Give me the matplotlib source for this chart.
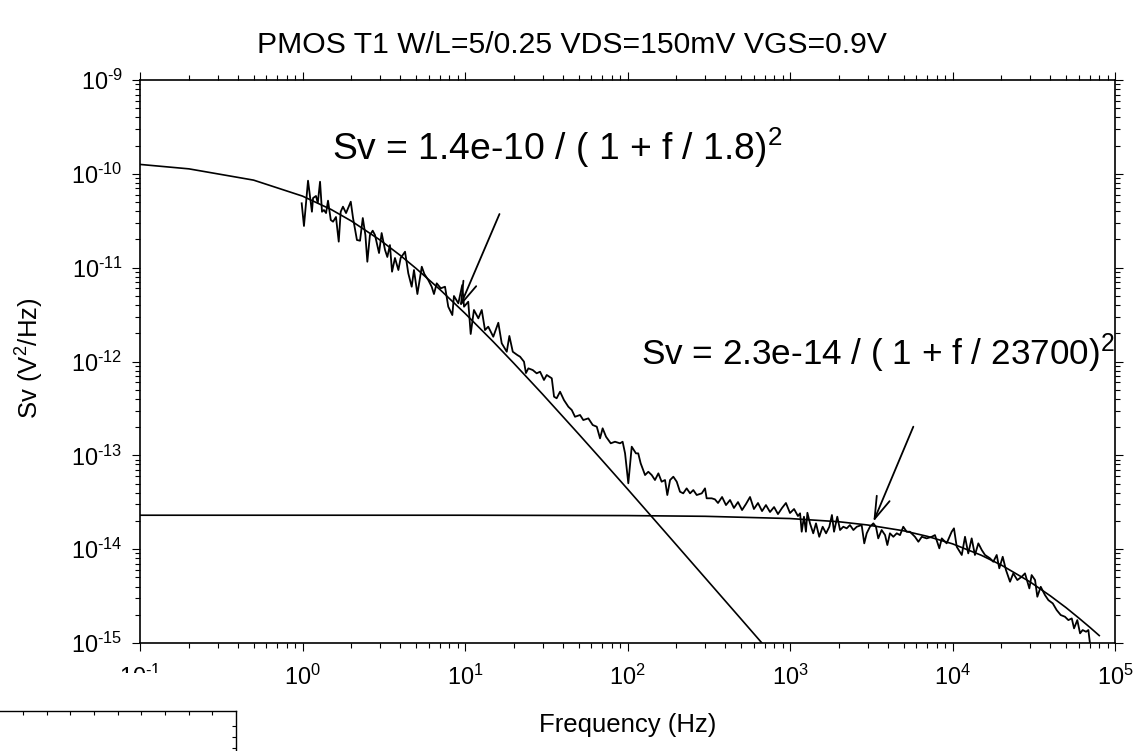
import matplotlib
matplotlib.use("Agg")
import matplotlib.pyplot as plt
import numpy as np
from matplotlib.ticker import LogLocator, NullFormatter, FuncFormatter
from matplotlib.patches import Rectangle

plt.rcParams['font.family'] = ['Liberation Sans', 'DejaVu Sans']
plt.rcParams['mathtext.fontset'] = 'custom'
plt.rcParams['mathtext.rm'] = 'Liberation Sans'
plt.rcParams['mathtext.it'] = 'Liberation Sans:italic'
plt.rcParams['mathtext.bf'] = 'Liberation Sans:bold'
plt.rcParams['mathtext.default'] = 'regular'
plt.rcParams['axes.unicode_minus'] = False

log_f = [-0.005, 0.009, 0.034, 0.058, 0.065, 0.083, 0.094, 0.108, 0.120, 0.132,
         0.145, 0.157, 0.174, 0.188, 0.206, 0.223, 0.235, 0.249, 0.268, 0.297,
         0.311, 0.335, 0.354, 0.371, 0.387, 0.399, 0.415, 0.432, 0.446, 0.471,
         0.487, 0.508, 0.522, 0.538, 0.551, 0.569, 0.590, 0.604, 0.631, 0.651,
         0.672, 0.686, 0.707, 0.734, 0.750, 0.774, 0.795, 0.809, 0.826, 0.851,
         0.877, 0.897, 0.922, 0.932, 0.959, 0.983, 0.994, 1.020, 1.035, 1.055,
         1.082, 1.103, 1.123, 1.143, 1.174, 1.205, 1.226, 1.257, 1.273, 1.294,
         1.322, 1.339, 1.363, 1.375, 1.390, 1.417, 1.441, 1.462, 1.486, 1.503,
         1.534, 1.548, 1.564, 1.585, 1.609, 1.636, 1.657, 1.677, 1.708, 1.728,
         1.759, 1.786, 1.811, 1.831, 1.847, 1.868, 1.897, 1.923, 1.954, 1.970,
         1.985, 2.005, 2.026, 2.052, 2.066, 2.081, 2.108, 2.128, 2.149, 2.169,
         2.190, 2.210, 2.231, 2.245, 2.262, 2.282, 2.303, 2.323, 2.343, 2.364,
         2.385, 2.405, 2.426, 2.457, 2.477, 2.487, 2.518, 2.538, 2.557, 2.582,
         2.606, 2.631, 2.655, 2.680, 2.705, 2.729, 2.754, 2.778, 2.803, 2.828,
         2.852, 2.877, 2.902, 2.926, 2.951, 2.975, 3.000, 3.025, 3.049, 3.062,
         3.072, 3.086, 3.098, 3.107, 3.123, 3.143, 3.160, 3.180, 3.201, 3.222,
         3.242, 3.258, 3.271, 3.291, 3.308, 3.328, 3.349, 3.369, 3.390, 3.411,
         3.441, 3.457, 3.472, 3.492, 3.513, 3.529, 3.543, 3.564, 3.585, 3.599,
         3.615, 3.636, 3.657, 3.677, 3.697, 3.718, 3.738, 3.769, 3.790, 3.811,
         3.841, 3.872, 3.892, 3.919, 3.934, 3.964, 3.995, 4.009, 4.026, 4.057,
         4.077, 4.097, 4.118, 4.138, 4.159, 4.180, 4.200, 4.231, 4.251, 4.272,
         4.288, 4.309, 4.329, 4.354, 4.374, 4.399, 4.426, 4.446, 4.473, 4.487,
         4.508, 4.522, 4.543, 4.569, 4.590, 4.617, 4.641, 4.666, 4.692, 4.713,
         4.734, 4.748, 4.768, 4.785, 4.801, 4.822, 4.836, 4.846]
log_sv = [-10.314, -10.556, -10.073, -10.404, -10.258, -10.236, -10.311, -10.084, -10.404, -10.386,
          -10.418, -10.286, -10.492, -10.510, -10.460, -10.723, -10.404, -10.350, -10.418, -10.297,
          -10.471, -10.705, -10.713, -10.471, -10.652, -10.937, -10.652, -10.606, -10.652, -10.844,
          -10.631, -10.812, -10.886, -10.759, -11.043, -10.897, -11.025, -10.897, -10.830, -11.060,
          -11.203, -11.025, -11.281, -10.990, -11.068, -11.132, -11.203, -11.281, -11.167, -11.220,
          -11.203, -11.416, -11.505, -11.302, -11.380, -11.185, -11.416, -11.363, -11.707, -11.451,
          -11.540, -11.451, -11.665, -11.629, -11.736, -11.587, -11.806, -11.896, -11.728, -11.896,
          -11.931, -11.949, -12.002, -12.123, -12.073, -12.091, -12.126, -12.109, -12.197, -12.144,
          -12.179, -12.375, -12.392, -12.322, -12.411, -12.482, -12.517, -12.589, -12.570, -12.624,
          -12.606, -12.677, -12.695, -12.819, -12.712, -12.802, -12.872, -12.855, -12.872, -12.855,
          -12.979, -13.298, -12.908, -12.979, -12.979, -13.085, -13.210, -13.175, -13.210, -13.263,
          -13.192, -13.281, -13.263, -13.423, -13.263, -13.228, -13.281, -13.388, -13.405, -13.352,
          -13.405, -13.370, -13.423, -13.405, -13.352, -13.458, -13.458, -13.469, -13.508, -13.444,
          -13.530, -13.476, -13.561, -13.498, -13.583, -13.519, -13.444, -13.572, -13.508, -13.594,
          -13.530, -13.604, -13.551, -13.626, -13.561, -13.508, -13.615, -13.572, -13.647, -13.618,
          -13.814, -13.654, -13.814, -13.612, -13.725, -13.831, -13.725, -13.868, -13.761, -13.831,
          -13.761, -13.636, -13.814, -13.654, -13.796, -13.761, -13.778, -13.743, -13.796, -13.761,
          -13.743, -13.938, -13.831, -13.761, -13.725, -13.761, -13.885, -13.796, -13.850, -13.956,
          -13.831, -13.868, -13.831, -13.850, -13.761, -13.814, -13.814, -13.868, -13.921, -13.868,
          -13.885, -13.868, -13.850, -13.991, -13.885, -13.938, -13.814, -13.778, -13.974, -14.062,
          -13.868, -14.045, -13.885, -14.062, -13.938, -14.009, -14.062, -14.098, -14.134, -14.062,
          -14.204, -14.081, -14.222, -14.347, -14.258, -14.329, -14.294, -14.258, -14.418, -14.276,
          -14.329, -14.507, -14.401, -14.489, -14.543, -14.578, -14.649, -14.702, -14.720, -14.756,
          -14.738, -14.844, -14.756, -14.897, -14.862, -14.880, -14.862, -15.004]

# fitted curves (Hz, V^2/Hz)
fit1_f = [0.1, 0.2, 0.5, 1, 1.5, 2, 3, 4, 5, 7, 10, 15, 20, 30, 50, 70, 100, 200, 500, 700]
fit1_sv = [1.26e-10, 1.13e-10, 8.57e-11, 5.79e-11, 4.17e-11, 3.14e-11, 1.97e-11, 1.35e-11,
           9.81e-12, 5.86e-12, 3.26e-12, 1.61e-12, 9.55e-13, 4.49e-13, 1.69e-13, 8.80e-14,
           4.38e-14, 1.11e-14, 1.80e-15, 9.21e-16]
fit2_f = [0.1, 1, 10, 100, 300, 1000, 2000, 3000, 5000, 7000, 10000, 15000, 20000, 30000,
          40000, 50000, 60000, 70000, 80000]
fit2_sv = [2.30e-14, 2.30e-14, 2.30e-14, 2.28e-14, 2.24e-14, 2.12e-14, 1.96e-14, 1.81e-14,
           1.57e-14, 1.37e-14, 1.14e-14, 8.63e-15, 6.76e-15, 4.48e-15, 3.18e-15, 2.38e-15,
           1.84e-15, 1.47e-15, 1.20e-15]


def decade(v, pos):
    # 10 with a short hyphen in the exponent, as in the original
    e = int(round(np.log10(v)))
    return '10$^{%s}$' % str(e).replace('-', '\u2010')


fig = plt.figure(figsize=(11.43, 7.51), dpi=100)
ax = fig.add_axes([140/1143, 1 - 643/751, 975/1143, 563/751])

ax.plot(10**np.array(log_f), 10**np.array(log_sv), color='black', lw=1.3)
ax.plot(fit1_f, fit1_sv, color='black', lw=1.2)
ax.plot(fit2_f, fit2_sv, color='black', lw=1.2)

ax.set_xscale('log')
ax.set_yscale('log')
ax.set_xlim(0.1, 1e5)
ax.set_ylim(1e-15, 1e-9)
ax.xaxis.set_major_locator(LogLocator(base=10, numticks=10))
ax.yaxis.set_major_locator(LogLocator(base=10, numticks=10))
ax.xaxis.set_major_formatter(FuncFormatter(decade))
ax.yaxis.set_major_formatter(FuncFormatter(decade))
ax.xaxis.set_minor_locator(LogLocator(base=10, subs=np.arange(2, 10), numticks=20))
ax.yaxis.set_minor_locator(LogLocator(base=10, subs=np.arange(2, 10), numticks=20))
ax.xaxis.set_minor_formatter(NullFormatter())
ax.yaxis.set_minor_formatter(NullFormatter())
ax.tick_params(which='both', direction='out', top=True, right=True, width=0.8,
               labelsize=16.8)
ax.tick_params(which='major', length=5.5)
ax.tick_params(which='minor', length=3.5)
ax.tick_params(axis='x', pad=10)
ax.tick_params(axis='y', pad=7)
for s in ax.spines.values():
    s.set_linewidth(1.2)

ax.set_xlabel('Frequency (Hz)', fontsize=18.5)
ax.xaxis.label.set_va('center')
ax.xaxis.set_label_coords(0.5, -0.1456)
ax.set_ylabel('Sv (V$^2$/Hz)', fontsize=18.5)
ax.yaxis.label.set_va('center')
ax.yaxis.set_label_coords(-0.1128, 0.506)
fig.suptitle('PMOS T1 W/L=5/0.25 VDS=150mV VGS=0.9V', x=0.5, y=1 - 45/751,
             va='center', fontsize=21.7)

ax.text(1.52, 1.40e-10, 'Sv = 1.4e-10 / ( 1 + f / 1.8)$^2$', fontsize=26.8, va='baseline')
ax.text(121, 9.2e-13, 'Sv = 2.3e-14 / ( 1 + f / 23700)$^2$', fontsize=25.3, va='baseline')

arrow = dict(arrowstyle='->,head_length=0.8,head_width=0.25', lw=1.3, color='black',
             shrinkA=0, shrinkB=0, mutation_scale=20)
ax.annotate('', xy=(9.3, 3.84e-12), xytext=(16.3, 3.73e-11), arrowprops=arrow)
ax.annotate('', xy=(3260, 1.96e-14), xytext=(5740, 2.02e-13), arrowprops=arrow)

# stray frame in the lower left corner of the original export
fig.add_artist(Rectangle((0, 0), 236/1143, (751 - 673)/751, transform=fig.transFigure,
                         facecolor='white', edgecolor='none', zorder=5))
ax2 = fig.add_axes([-0.1, -0.05, 0.1 + 236/1143, 0.05 + 40/751], zorder=6)
ax2.patch.set_visible(False)
ax2.spines['left'].set_visible(False)
ax2.spines['bottom'].set_visible(False)
ax2.spines['top'].set_linewidth(1.0)
ax2.spines['right'].set_linewidth(1.0)
ax2.set_xlim(-114.3, 236)
ax2.set_ylim(788.5, 711)
ax2.set_xticks([23.5, 47, 70.5, 94.5, 118, 141.5, 165.5, 189, 212.5])
ax2.set_yticks([726, 737, 748])
ax2.tick_params(direction='in', length=3, width=0.8, top=True, bottom=False,
                left=False, right=True, labelbottom=False, labelleft=False)

fig.savefig('out.png', dpi=100)
